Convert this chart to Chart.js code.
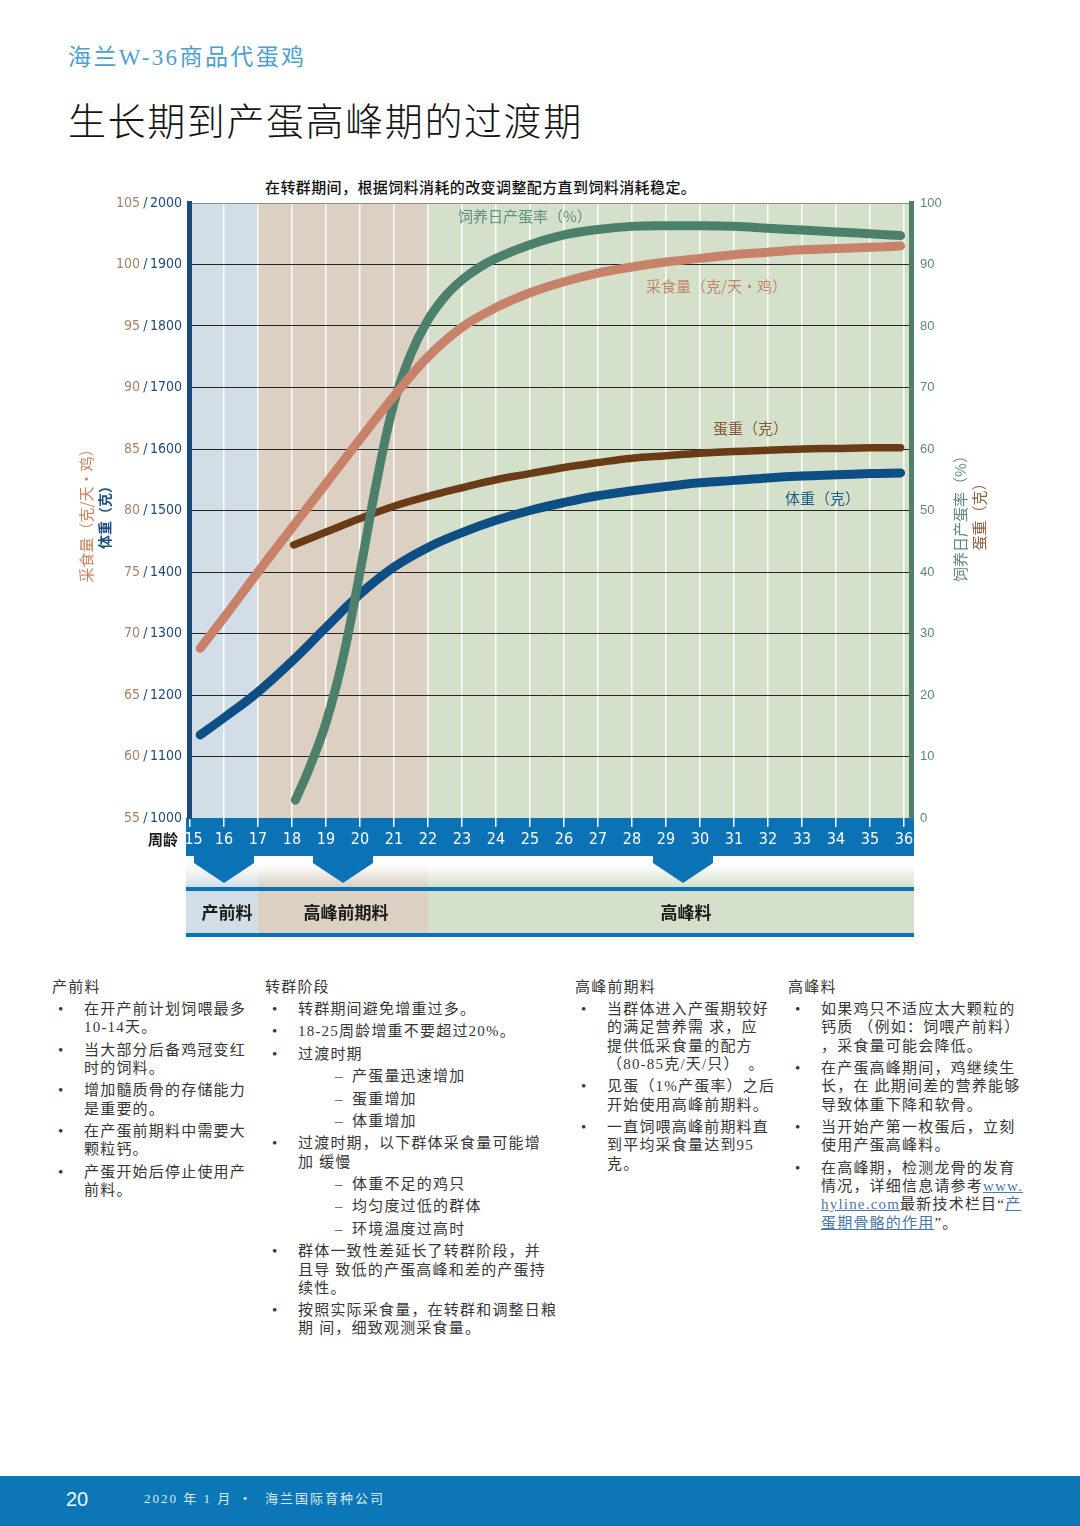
<!DOCTYPE html>
<html><head><meta charset="utf-8">
<script src="https://cdn.jsdelivr.net/npm/chart.js@4.4.1/dist/chart.umd.min.js"></script>
<style>
html,body{margin:0;padding:0;background:#fff;}
body{width:1080px;height:1526px;position:relative;overflow:hidden;font-family:'Noto Sans CJK SC',sans-serif;}
.abs{position:absolute;white-space:nowrap;}
#hdr{left:68px;top:45px;font-family:'Liberation Serif','Noto Sans CJK SC',serif;font-size:23px;line-height:26px;color:#4b9fcf;letter-spacing:2.4px;}
#ttl{left:68px;top:101px;font-family:'Liberation Serif','Noto Sans CJK SC',serif;font-size:38px;line-height:42px;color:#141414;letter-spacing:1.6px;font-weight:300;}
#sub{left:265px;top:177px;font-size:15px;line-height:20px;color:#111;font-weight:500;letter-spacing:0.4px;}
.clab{font-size:15px;line-height:18px;}
.rot{transform:translate(-50%,-50%) rotate(-90deg);font-size:15px;line-height:18px;}
.col{position:absolute;top:978px;font-family:'Liberation Serif','Noto Sans CJK SC',serif;font-size:15px;color:#363636;line-height:18.3px;letter-spacing:1.2px;white-space:nowrap;}
.col .h{line-height:18px;margin-bottom:4px;}
.col .list{margin-left:32px;}
.col .it{position:relative;margin-bottom:4.1px;}
.col .it::before{content:'•';position:absolute;left:-26px;top:0;}
.col .sb{position:relative;margin-left:54px;margin-bottom:4.1px;}
.col .sb::before{content:'–';position:absolute;left:-17px;top:0;color:#555;}
.col a{color:#4a76a8;text-decoration:underline;}
#foot{left:0;top:1476px;width:1080px;height:50px;background:#0b77b7;}
</style></head><body>
<div class="abs" id="hdr">海兰W-36商品代蛋鸡</div>
<div class="abs" id="ttl">生长期到产蛋高峰期的过渡期</div>
<div class="abs" id="sub">在转群期间，根据饲料消耗的改变调整配方直到饲料消耗稳定。</div>

<canvas id="c" width="1080" height="800" style="position:absolute;left:0;top:160px;"></canvas>

<div class="abs clab" style="left:458px;top:207px;color:#5f9180;">饲养日产蛋率（%）</div>
<div class="abs clab" style="left:646px;top:277px;color:#c3866a;">采食量（克/天・鸡）</div>
<div class="abs clab" style="left:713px;top:419px;color:#865936;">蛋重（克）</div>
<div class="abs clab" style="left:785px;top:489px;color:#1f5d8c;">体重（克）</div>

<div class="abs" style="left:148px;top:829px;font-size:15px;line-height:20px;font-weight:bold;color:#1a1a1a;">周龄</div>

<div class="abs rot" style="left:86px;top:512px;color:#c9825f;">采食量（克/天・鸡）</div>
<div class="abs rot" style="left:104px;top:514px;color:#1b4f82;font-weight:bold;font-size:14px;">体重（克）</div>
<div class="abs rot" style="left:960px;top:515px;color:#5b8c7a;">饲养日产蛋率（%）</div>
<div class="abs rot" style="left:979px;top:513px;color:#8b5d3b;">蛋重（克）</div>

<div class="col" style="left:52px;">
<div class="h">产前料</div>
<div class="list">
<div class="it">在开产前计划饲喂最多<br>10-14天。</div>
<div class="it">当大部分后备鸡冠变红<br>时的饲料。</div>
<div class="it">增加髓质骨的存储能力<br>是重要的。</div>
<div class="it">在产蛋前期料中需要大<br>颗粒钙。</div>
<div class="it">产蛋开始后停止使用产<br>前料。</div>
</div></div>

<div class="col" style="left:265px;">
<div class="h">转群阶段</div>
<div class="list" style="margin-left:33px;">
<div class="it">转群期间避免增重过多。</div>
<div class="it">18-25周龄增重不要超过20%。</div>
<div class="it">过渡时期</div>
<div class="sb">产蛋量迅速增加</div>
<div class="sb">蛋重增加</div>
<div class="sb">体重增加</div>
<div class="it">过渡时期，以下群体采食量可能增<br>加 缓慢</div>
<div class="sb">体重不足的鸡只</div>
<div class="sb">均匀度过低的群体</div>
<div class="sb">环境温度过高时</div>
<div class="it">群体一致性差延长了转群阶段，并<br>且导 致低的产蛋高峰和差的产蛋持<br>续性。</div>
<div class="it">按照实际采食量，在转群和调整日粮<br>期 间，细致观测采食量。</div>
</div></div>

<div class="col" style="left:575px;">
<div class="h">高峰前期料</div>
<div class="list" style="margin-top:4px;">
<div class="it">当群体进入产蛋期较好<br>的满足营养需 求，应<br>提供低采食量的配方<br>（80-85克/天/只）　。</div>
<div class="it">见蛋（1%产蛋率）之后<br>开始使用高峰前期料。</div>
<div class="it">一直饲喂高峰前期料直<br>到平均采食量达到95<br>克。</div>
</div></div>

<div class="col" style="left:788px;">
<div class="h">高峰料</div>
<div class="list" style="margin-left:33px;">
<div class="it">如果鸡只不适应太大颗粒的<br>钙质 （例如：饲喂产前料）<br>，采食量可能会降低。</div>
<div class="it">在产蛋高峰期间，鸡继续生<br>长，在 此期间差的营养能够<br>导致体重下降和软骨。</div>
<div class="it">当开始产第一枚蛋后，立刻<br>使用产蛋高峰料。</div>
<div class="it">在高峰期，检测龙骨的发育<br>情况，详细信息请参考<a>www.</a><br><a>hyline.com</a>最新技术栏目“<a>产</a><br><a>蛋期骨骼的作用</a>”。</div>
</div></div>

<div class="abs" id="foot"></div>
<div class="abs" style="left:66px;top:1487px;font-family:'Liberation Sans',sans-serif;font-size:20px;line-height:24px;color:#eef4fa;">20</div>
<div class="abs" style="left:144px;top:1491px;font-family:'Liberation Serif','Noto Sans CJK SC',serif;font-size:13px;line-height:16px;color:#dbe8f3;letter-spacing:2px;">2020 年 1 月 &nbsp;•&nbsp;&nbsp; 海兰国际育种公司</div>

<script>
// ---- data ----
const weeks = [15,16,17,18,19,20,21,22,23,24,25,26,27,28,29,30,31,32,33,34,35,36];
const feedTicks = [55,60,65,70,75,80,85,90,95,100,105];
const bwTicks = [1000,1100,1200,1300,1400,1500,1600,1700,1800,1900,2000];
const rightTicks = [0,10,20,30,40,50,60,70,80,90,100];

const feedWeeks = [15.3,16,17,18,19,20,21,22,23,24,25,26,27,28,29,30,31,32,33,34,35,35.9];
const feedIntake = [68.8,71.3,75.0,78.6,82.2,85.8,89.3,92.5,94.9,96.5,97.7,98.6,99.3,99.8,100.2,100.5,100.8,101.0,101.2,101.3,101.4,101.5];

const bwWeeks = [15.3,16,17,18,19,20,21,22,23,24,25,26,27,28,29,30,31,32,33,34,35,35.9];
const bodyWeight = [1135,1163,1205,1255,1310,1364,1408,1440,1464,1484,1500,1513,1524,1532,1539,1545,1549,1553,1556,1558,1560,1561];

const eggWtWeeks = [18.05,19,20,21,22,23,24,25,26,27,28,29,30,31,32,33,34,35,35.9];
const eggWeight = [44.4,46.5,48.7,50.7,52.3,53.7,55.0,56.0,57.0,57.8,58.5,58.9,59.3,59.6,59.8,60.0,60.1,60.2,60.2];

const prodWeeks = [18.1,18.5,19,19.5,20,20.5,21,21.5,22,22.5,23,23.5,24,25,26,27,28,29,30,31,32,33,34,35,35.9];
const eggProduction = [2.9,8,15.5,26,40,55,67.5,75.5,81,84.8,87.5,89.5,91.0,93.2,94.8,95.7,96.2,96.3,96.3,96.2,95.9,95.6,95.3,95.0,94.7];

const phaseBounds = [15,17,22,36];
const phaseNames = ['产前料','高峰前期料','高峰料'];
const arrowWeeks = [16,19.5,29.5];

// ---- styles ----
const BLUE = '#0b72b5';
const phaseColors = ['#d3dde8','#dbd0c1','#d4e0ca'];
const NARROW = "'Liberation Sans Narrow','DejaVu Sans Condensed',sans-serif";

const pts = (xs, ys) => xs.map((w,i)=>({x:w,y:ys[i]}));

const bgPlugin = {
  id:'bg',
  beforeDraw(chart){
    const {ctx, chartArea:a, scales:{x}} = chart;
    ctx.save();
    const edges = phaseBounds.map((w,i)=> i===0 ? a.left : (i===phaseBounds.length-1 ? a.right : x.getPixelForValue(w)));
    for(let i=0;i<phaseNames.length;i++){
      ctx.fillStyle = phaseColors[i];
      ctx.fillRect(edges[i], a.top, edges[i+1]-edges[i], a.bottom-a.top);
    }
    const L = a.left-3, R = a.right+3, b = a.bottom;
    const be = edges.slice(); be[0]=L; be[be.length-1]=R;
    ctx.fillStyle = BLUE;
    ctx.fillRect(L, b, R-L, 38);
    for(let i=0;i<phaseNames.length;i++){
      const g = ctx.createLinearGradient(0,b+38,0,b+69);
      g.addColorStop(0,'#ffffff'); g.addColorStop(0.35,'#fbfcfa'); g.addColorStop(1,phaseColors[i]);
      ctx.fillStyle = g;
      ctx.fillRect(be[i], b+38, be[i+1]-be[i], 31);
    }
    ctx.fillStyle = BLUE;
    arrowWeeks.forEach(w=>{
      const cx = x.getPixelForValue(w);
      ctx.beginPath();
      ctx.moveTo(cx-30,b+37); ctx.lineTo(cx+30,b+37); ctx.lineTo(cx+30,b+45);
      ctx.lineTo(cx,b+65); ctx.lineTo(cx-30,b+45); ctx.closePath(); ctx.fill();
    });
    ctx.fillRect(L, b+69, R-L, 4);
    for(let i=0;i<phaseNames.length;i++){
      ctx.fillStyle = phaseColors[i];
      ctx.fillRect(be[i], b+73, be[i+1]-be[i], 42);
    }
    ctx.fillStyle = BLUE;
    ctx.fillRect(L, b+115, R-L, 4);
    ctx.font = "bold 17px 'Noto Sans CJK SC'";
    ctx.fillStyle = '#1a1a1a'; ctx.textAlign='center'; ctx.textBaseline='middle';
    phaseNames.forEach((n,i)=> ctx.fillText(n, x.getPixelForValue(arrowWeeks[i])+3, b+95));
    ctx.restore();
  }
};

new Chart(document.getElementById('c'), {
  type:'line',
  data:{datasets:[
    {label:'采食量', data:pts(feedWeeks,feedIntake), yAxisID:'yFeed', borderColor:'#c9826a', borderWidth:9, order:1},
    {label:'饲养日产蛋率', data:pts(prodWeeks,eggProduction), yAxisID:'yR', borderColor:'#4c806c', borderWidth:9, order:2},
    {label:'蛋重', data:pts(eggWtWeeks,eggWeight), yAxisID:'yR', borderColor:'#693b17', borderWidth:7.5, order:3},
    {label:'体重', data:pts(bwWeeks,bodyWeight), yAxisID:'yBW', borderColor:'#0d4f85', borderWidth:9, order:4}
  ]},
  options:{
    responsive:false, devicePixelRatio:1, animation:false,
    layout:{padding:{left:112,right:129,top:43,bottom:102}},
    elements:{point:{radius:0}, line:{cubicInterpolationMode:'default', tension:0.4, borderCapStyle:'round', borderJoinStyle:'round', fill:false}},
    plugins:{legend:{display:false}, tooltip:{enabled:false}},
    scales:{
      x:{type:'linear', position:'bottom', min:14.97, max:36.206,
        afterBuildTicks:s=>{s.ticks = weeks.map(v=>({value:v}));},
        afterFit:s=>{s.height=40;},
        grid:{color:'rgba(255,255,255,0.95)', lineWidth:1.5, drawTicks:true, tickLength:9, tickColor:'#ffffff', tickWidth:1.5},
        border:{display:false},
        ticks:{color:'#ffffff', padding:3, maxRotation:0, autoSkip:false, font:{family:NARROW, size:16},
          callback:(v,i)=> i===0 ? '\u2002'+v : String(v)}
      },
      yBW:{type:'linear', position:'left', weight:0, min:1000, max:2000,
        afterBuildTicks:s=>{s.ticks = bwTicks.map(v=>({value:v}));},
        afterFit:s=>{s.width=47;},
        grid:{drawTicks:false, lineWidth:1, color:c=> c.tick && c.tick.value===1000 ? 'rgba(0,0,0,0)' : (c.tick && c.tick.value===2000 ? '#8c8c8c' : '#262626')},
        border:{display:true, color:'#1b4b7c', width:5},
        ticks:{color:'#1d4a78', padding:7, font:{family:NARROW, size:14}, callback:v=>'/\u2009'+v}
      },
      yFeed:{type:'linear', position:'left', weight:1, min:55, max:105,
        afterBuildTicks:s=>{s.ticks = feedTicks.map(v=>({value:v}));},
        afterFit:s=>{s.width=30;},
        grid:{display:false, drawTicks:false},
        border:{display:false},
        ticks:{color:'#a98263', padding:2, font:{family:NARROW, size:14}}
      },
      yR:{type:'linear', position:'right', min:0, max:100,
        afterBuildTicks:s=>{s.ticks = rightTicks.map(v=>({value:v}));},
        afterFit:s=>{s.width=40;},
        grid:{display:false, drawTicks:false},
        border:{display:true, color:'#4d7f6a', width:5},
        ticks:{color:'#5b8a79', padding:9, font:{family:"'Liberation Sans',sans-serif", size:13}}
      }
    }
  },
  plugins:[bgPlugin]
});
</script>
</body></html>
